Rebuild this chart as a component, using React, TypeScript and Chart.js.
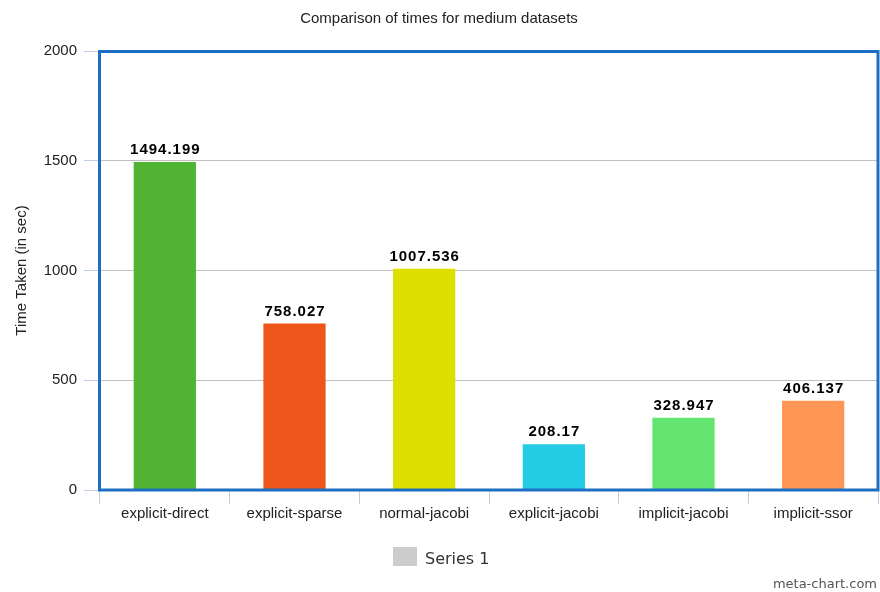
import React, { useEffect, useRef } from "react";
import { Chart, registerables } from "chart.js";

Chart.register(...registerables);

const categories = [
  "explicit-direct",
  "explicit-sparse",
  "normal-jacobi",
  "explicit-jacobi",
  "implicit-jacobi",
  "implicit-ssor",
];
const seriesValues = [1494.199, 758.027, 1007.536, 208.17, 328.947, 406.137];
const valueLabels = ["1494.199", "758.027", "1007.536", "208.17", "328.947", "406.137"];
const barColors = ["#50B432", "#ED561B", "#DDDF00", "#24CBE5", "#64E572", "#FF9655"];
const seriesName = "Series 1";
const yTicks = [0, 500, 1000, 1500, 2000];

const FONT = "'Liberation Sans', Arial, Helvetica, sans-serif";

// Blue frame around the plot area
const framePlugin = {
  id: "frame",
  afterDraw(chart: any) {
    const { ctx, chartArea } = chart;
    ctx.save();
    ctx.strokeStyle = "#1C6FC2";
    ctx.lineWidth = 3;
    ctx.strokeRect(
      chartArea.left - 0.5,
      chartArea.top + 0.5,
      chartArea.right - chartArea.left + 0.5,
      chartArea.bottom - chartArea.top - 0.5
    );
    ctx.restore();
  },
};

// Value labels above each bar
const valueLabelPlugin = {
  id: "valueLabels",
  afterDatasetsDraw(chart: any) {
    const { ctx } = chart;
    const meta = chart.getDatasetMeta(0);
    ctx.save();
    ctx.font = `bold 15px ${FONT}`;
    ctx.fillStyle = "#000";
    ctx.textAlign = "center";
    ctx.textBaseline = "alphabetic";
    try {
      (ctx as any).letterSpacing = "1px";
    } catch (e) {}
    meta.data.forEach((bar: any, i: number) => {
      ctx.fillText(valueLabels[i], bar.x + 0.5, bar.y - 8);
    });
    ctx.restore();
  },
};

// Legend entry and site credit at the bottom
const footerPlugin = {
  id: "footer",
  afterDraw(chart: any) {
    const { ctx } = chart;
    ctx.save();
    ctx.fillStyle = "#CCCCCC";
    ctx.fillRect(393, 547, 24, 19);
    ctx.font = "16px 'DejaVu Sans', Verdana, sans-serif";
    ctx.fillStyle = "#333";
    ctx.textAlign = "left";
    ctx.textBaseline = "alphabetic";
    ctx.fillText(seriesName, 425, 564);
    ctx.font = "13px 'DejaVu Sans', Verdana, sans-serif";
    ctx.fillStyle = "#555";
    ctx.textAlign = "right";
    ctx.fillText("meta-chart.com", 877, 588);
    ctx.restore();
  },
};

export default function App() {
  const canvasRef = useRef<HTMLCanvasElement | null>(null);

  useEffect(() => {
    if (!canvasRef.current) return;
    const chart = new Chart(canvasRef.current, {
      type: "bar",
      data: {
        labels: categories,
        datasets: [
          {
            label: seriesName,
            data: seriesValues,
            backgroundColor: barColors,
            borderWidth: 0,
            barPercentage: 0.48,
            categoryPercentage: 1,
          },
        ],
      },
      options: {
        responsive: false,
        animation: false,
        layout: { padding: { left: 0, right: 2, top: 0, bottom: 0 } },
        plugins: {
          legend: { display: false },
          tooltip: { enabled: false },
          title: {
            display: true,
            text: "Comparison of times for medium datasets",
            color: "#222",
            font: { family: FONT, size: 15, weight: "normal" },
            padding: { top: 10, bottom: 23 },
          },
        },
        scales: {
          x: {
            afterFit(scale: any) {
              scale.height = 102;
            },
            grid: {
              display: true,
              drawOnChartArea: false,
              drawTicks: true,
              tickLength: 14,
              tickColor: "#C0D0E0",
              offset: true,
            },
            border: { display: true, color: "#C0D0E0" },
            ticks: {
              color: "#222",
              font: { family: FONT, size: 15 },
              padding: 1,
              maxRotation: 0,
              autoSkip: false,
            },
          },
          y: {
            min: 0,
            max: 2000,
            afterFit(scale: any) {
              scale.width = 100;
            },
            afterBuildTicks(scale: any) {
              scale.ticks = yTicks.map((v) => ({ value: v }));
            },
            grid: {
              color: "#C0C0C0",
              tickColor: "#C0D0E0",
              tickLength: 16,
              drawTicks: true,
            },
            border: { display: false },
            ticks: {
              color: "#222",
              font: { family: FONT, size: 15 },
              padding: 7,
              callback: (value: any) => String(value),
            },
            title: {
              display: true,
              text: "Time Taken (in sec)",
              color: "#222",
              font: { family: FONT, size: 15 },
              padding: { top: 13, bottom: 0 },
            },
          },
        },
      },
      plugins: [valueLabelPlugin, framePlugin, footerPlugin],
    });
    return () => chart.destroy();
  }, []);

  return (
    <div style={{ position: "fixed", left: 0, top: 0, width: 880, height: 592, background: "#fff" }}>
      <canvas ref={canvasRef} width={880} height={592} style={{ display: "block" }} />
    </div>
  );
}
